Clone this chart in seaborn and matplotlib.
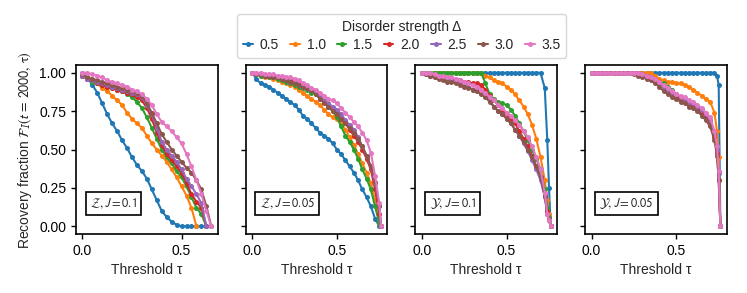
import numpy as np
import pandas as pd
import matplotlib
matplotlib.use("Agg")
import matplotlib.pyplot as plt
import seaborn as sns

# disorder strengths (hue levels)
deltas = ["0.5", "1.0", "1.5", "2.0", "2.5", "3.0", "3.5"]
panel_titles = [r"$\mathcal{Z}, J = 0.1$", r"$\mathcal{Z}, J = 0.05$",
                r"$\mathcal{Y}, J = 0.1$", r"$\mathcal{Y}, J = 0.05$"]

nan = np.nan

# --- panel 1: Z, J = 0.1
tau_z01 = [0.000, 0.025, 0.050, 0.075, 0.100, 0.125, 0.150, 0.175, 0.200, 0.225,
           0.250, 0.275, 0.300, 0.325, 0.350, 0.375, 0.400, 0.425, 0.450, 0.475,
           0.500, 0.525, 0.550, 0.575, 0.600, 0.625, 0.650]
frac_z01 = [
    [1.00, 0.97, 0.92, 0.87, 0.80, 0.73, 0.67, 0.62, 0.56, 0.51, 0.45, 0.40, 0.36, 0.31,
     0.24, 0.17, 0.10, 0.06, 0.03, 0.01, 0.00, 0.00, 0.00, 0.00, 0.00, 0.00, nan],
    [0.98, 0.97, 0.95, 0.93, 0.90, 0.88, 0.85, 0.82, 0.79, 0.74, 0.70, 0.67, 0.64, 0.59,
     0.54, 0.50, 0.46, 0.42, 0.37, 0.32, 0.26, 0.20, 0.12, 0.00, nan, nan, nan],
    [0.98, 0.96, 0.94, 0.93, 0.92, 0.91, 0.90, 0.89, 0.88, 0.86, 0.84, 0.81, 0.77, 0.71,
     0.64, 0.57, 0.50, 0.45, 0.41, 0.36, 0.32, 0.26, 0.19, 0.12, 0.08, 0.00, nan],
    [0.98, 0.96, 0.95, 0.93, 0.92, 0.91, 0.90, 0.89, 0.88, 0.87, 0.86, 0.84, 0.82, 0.77,
     0.70, 0.61, 0.53, 0.47, 0.43, 0.39, 0.35, 0.28, 0.21, 0.16, 0.12, 0.00, nan],
    [0.98, 0.96, 0.95, 0.94, 0.93, 0.92, 0.91, 0.90, 0.89, 0.88, 0.87, 0.86, 0.84, 0.79,
     0.73, 0.64, 0.55, 0.50, 0.46, 0.42, 0.37, 0.31, 0.26, 0.21, 0.15, 0.00, nan],
    [0.99, 0.97, 0.96, 0.95, 0.94, 0.93, 0.92, 0.91, 0.90, 0.89, 0.88, 0.87, 0.85, 0.80,
     0.74, 0.67, 0.60, 0.55, 0.50, 0.46, 0.42, 0.38, 0.35, 0.30, 0.24, 0.13, 0.00],
    [1.00, 1.00, 0.99, 0.98, 0.97, 0.95, 0.94, 0.93, 0.92, 0.91, 0.89, 0.88, 0.86, 0.83,
     0.79, 0.73, 0.68, 0.65, 0.62, 0.58, 0.54, 0.47, 0.39, 0.30, 0.21, 0.10, 0.00],
]

# --- panel 2: Z, J = 0.05
tau_z005 = [0.000, 0.025, 0.050, 0.075, 0.100, 0.125, 0.150, 0.175, 0.200, 0.225,
            0.250, 0.275, 0.300, 0.325, 0.350, 0.375, 0.400, 0.425, 0.450, 0.475,
            0.500, 0.525, 0.550, 0.575, 0.600, 0.625, 0.650, 0.675, 0.700, 0.725,
            0.750, 0.760]
frac_z005 = [
    [1.00, 0.96, 0.93, 0.92, 0.91, 0.89, 0.87, 0.85, 0.83, 0.81, 0.79, 0.76, 0.72, 0.70, 0.67, 0.64,
     0.61, 0.59, 0.57, 0.54, 0.50, 0.47, 0.43, 0.39, 0.35, 0.30, 0.24, 0.19, 0.13, 0.05, 0.00, nan],
    [1.00, 0.99, 0.98, 0.97, 0.97, 0.96, 0.95, 0.94, 0.93, 0.92, 0.91, 0.89, 0.87, 0.85, 0.83, 0.81,
     0.79, 0.76, 0.73, 0.71, 0.70, 0.67, 0.63, 0.58, 0.53, 0.47, 0.41, 0.35, 0.28, 0.17, 0.02, 0.00],
    [1.00, 0.99, 0.98, 0.98, 0.97, 0.97, 0.96, 0.95, 0.94, 0.93, 0.92, 0.91, 0.90, 0.89, 0.87, 0.86,
     0.84, 0.81, 0.78, 0.75, 0.71, 0.65, 0.59, 0.55, 0.50, 0.44, 0.37, 0.31, 0.24, 0.13, 0.02, 0.00],
    [1.00, 0.99, 0.99, 0.98, 0.98, 0.97, 0.97, 0.96, 0.96, 0.95, 0.94, 0.93, 0.92, 0.91, 0.89, 0.86,
     0.83, 0.81, 0.79, 0.76, 0.73, 0.70, 0.67, 0.63, 0.59, 0.55, 0.50, 0.44, 0.37, 0.24, 0.08, 0.00],
    [1.00, 0.99, 0.99, 0.98, 0.98, 0.97, 0.97, 0.96, 0.95, 0.94, 0.93, 0.92, 0.91, 0.90, 0.89, 0.86,
     0.84, 0.82, 0.80, 0.78, 0.76, 0.73, 0.69, 0.66, 0.63, 0.58, 0.52, 0.46, 0.39, 0.28, 0.13, 0.00],
    [1.00, 0.99, 0.99, 0.98, 0.98, 0.97, 0.97, 0.96, 0.95, 0.94, 0.93, 0.92, 0.91, 0.90, 0.89, 0.86,
     0.83, 0.80, 0.78, 0.75, 0.73, 0.70, 0.67, 0.64, 0.61, 0.57, 0.52, 0.46, 0.39, 0.29, 0.13, 0.00],
    [1.00, 1.00, 1.00, 0.99, 0.99, 0.99, 0.98, 0.98, 0.97, 0.97, 0.96, 0.95, 0.93, 0.92, 0.90, 0.89,
     0.87, 0.85, 0.83, 0.82, 0.80, 0.77, 0.74, 0.71, 0.68, 0.65, 0.61, 0.56, 0.48, 0.33, 0.15, 0.00],
]

# --- panels 3 and 4 share the same threshold grid
tau_y = [0.000, 0.025, 0.050, 0.075, 0.100, 0.125, 0.150, 0.175, 0.200, 0.225,
         0.250, 0.275, 0.300, 0.325, 0.350, 0.375, 0.400, 0.425, 0.450, 0.475,
         0.500, 0.525, 0.550, 0.575, 0.600, 0.625, 0.650, 0.675, 0.700, 0.725,
         0.740, 0.750, 0.760]

# --- panel 3: Y, J = 0.1
frac_y01 = [
    [1.00] * 29 + [0.90, 0.56, 0.25, 0.00],
    [1.00] * 15 + [0.98, 0.97, 0.95, 0.94, 0.93, 0.91, 0.89, 0.86, 0.82, 0.78, 0.73, 0.66, 0.57,
                   0.45, 0.30, 0.17, 0.08, 0.00],
    [1.00] * 15 + [0.93, 0.86, 0.83, 0.81, 0.80, 0.79, 0.76, 0.72, 0.67, 0.62, 0.56, 0.50, 0.44,
                   0.37, 0.24, 0.12, 0.06, 0.00],
    [1.00, 0.99, 0.98, 0.98, 0.97, 0.97, 0.96, 0.96, 0.95, 0.95, 0.94, 0.94, 0.93, 0.93, 0.92, 0.89,
     0.85, 0.82, 0.79, 0.76, 0.73, 0.70, 0.67, 0.62, 0.57, 0.52, 0.46, 0.39, 0.32, 0.20, 0.10, 0.05, 0.00],
    [1.00, 0.99, 0.98, 0.97, 0.97, 0.96, 0.96, 0.95, 0.94, 0.93, 0.92, 0.91, 0.89, 0.88, 0.87, 0.85,
     0.82, 0.78, 0.75, 0.73, 0.70, 0.67, 0.63, 0.59, 0.54, 0.49, 0.43, 0.37, 0.30, 0.19, 0.08, 0.04, 0.00],
    [1.00, 0.99, 0.98, 0.97, 0.96, 0.95, 0.94, 0.94, 0.93, 0.92, 0.91, 0.90, 0.89, 0.88, 0.86, 0.84,
     0.81, 0.78, 0.75, 0.73, 0.70, 0.67, 0.63, 0.59, 0.55, 0.50, 0.45, 0.39, 0.32, 0.20, 0.08, 0.04, 0.00],
    [1.00, 1.00, 1.00, 0.99, 0.98, 0.98, 0.97, 0.97, 0.96, 0.95, 0.94, 0.93, 0.92, 0.91, 0.89, 0.87,
     0.84, 0.82, 0.79, 0.77, 0.74, 0.72, 0.69, 0.66, 0.62, 0.58, 0.52, 0.45, 0.37, 0.22, 0.08, 0.04, 0.00],
]

# --- panel 4: Y, J = 0.05
frac_y005 = [
    [1.00] * 30 + [0.98, 0.92, 0.00],
    [1.00] * 15 + [0.98, 0.96, 0.95, 0.94, 0.94, 0.93, 0.93, 0.92, 0.91, 0.89, 0.87, 0.85, 0.83,
                   0.81, 0.74, 0.62, 0.45, 0.00],
    [1.00] * 12 + [0.99, 0.98, 0.97, 0.96, 0.94, 0.93, 0.91, 0.89, 0.86, 0.84, 0.83, 0.81, 0.80,
                   0.78, 0.75, 0.72, 0.68, 0.60, 0.50, 0.35, 0.00],
    [1.00] * 12 + [0.99, 0.98, 0.97, 0.95, 0.94, 0.92, 0.89, 0.87, 0.85, 0.83, 0.82, 0.80, 0.79,
                   0.77, 0.74, 0.71, 0.67, 0.58, 0.48, 0.30, 0.00],
    [1.00] * 12 + [0.98, 0.97, 0.96, 0.95, 0.93, 0.91, 0.89, 0.87, 0.86, 0.84, 0.83, 0.81, 0.80,
                   0.78, 0.76, 0.73, 0.69, 0.60, 0.50, 0.35, 0.00],
    [1.00] * 10 + [0.99, 0.98, 0.97, 0.96, 0.95, 0.93, 0.91, 0.88, 0.86, 0.84, 0.83, 0.81, 0.80,
                   0.78, 0.77, 0.75, 0.72, 0.69, 0.65, 0.56, 0.46, 0.30, 0.00],
    [1.00] * 12 + [0.99, 0.98, 0.97, 0.96, 0.94, 0.92, 0.90, 0.88, 0.86, 0.85, 0.84, 0.82, 0.81,
                   0.79, 0.77, 0.74, 0.71, 0.62, 0.52, 0.36, 0.00],
]

panels = [(tau_z01, frac_z01), (tau_z005, frac_z005), (tau_y, frac_y01), (tau_y, frac_y005)]


def to_frame(tau, frac):
    rows = []
    for d, ys in zip(deltas, frac):
        for t, y in zip(tau, ys):
            rows.append({"tau": t, "frac": y, "delta": d})
    return pd.DataFrame(rows).dropna()


sns.set_style("ticks")
plt.rcParams["font.family"] = ["Liberation Sans", "DejaVu Sans"]
plt.rcParams["mathtext.fontset"] = "stixsans"
plt.rcParams["font.size"] = 10
plt.rcParams["axes.linewidth"] = 1.2
plt.rcParams["axes.edgecolor"] = "black"
plt.rcParams["xtick.color"] = "black"
plt.rcParams["ytick.color"] = "black"
plt.rcParams["xtick.major.width"] = 1.0
plt.rcParams["ytick.major.width"] = 1.0
plt.rcParams["xtick.major.size"] = 3.5
plt.rcParams["ytick.major.size"] = 3.5

palette = sns.color_palette("tab10", len(deltas))

fig, axes = plt.subplots(1, 4, figsize=(7.47, 2.93), dpi=100, sharey=True)
fig.subplots_adjust(left=0.1017, right=0.973, bottom=0.2014, top=0.778, wspace=0.197)

for ax, (tau, frac), title in zip(axes, panels, panel_titles):
    df = to_frame(tau, frac)
    sns.lineplot(data=df, x="tau", y="frac", hue="delta", hue_order=deltas,
                 palette=palette, marker="o", markersize=3.6, markeredgewidth=0,
                 linewidth=1.5, estimator=None, legend=False, ax=ax)
    ax.set_xticks([0.0, 0.5])
    ax.set_xticklabels(["0.0", "0.5"])
    ax.set_yticks([0.0, 0.25, 0.5, 0.75, 1.0])
    ax.set_xlabel("Threshold τ", fontsize=10)
    ax.set_ylabel("")
    ax.tick_params(labelsize=10)
    ax.text(0.1, 0.18, title, transform=ax.transAxes, fontsize=9, ha="left", va="center",
            bbox=dict(boxstyle="square,pad=0.35", fc="white", ec="black", lw=1.2))

axes[0].set_yticklabels(["0.00", "0.25", "0.50", "0.75", "1.00"])
axes[0].set_ylabel(r"Recovery fraction $\mathcal{F}_I(t\,=\,2000,\,\mathrm{\tau})$", fontsize=10)

handles = list(axes[0].get_lines()[:len(deltas)])
fig.legend(handles, deltas, loc="upper center", bbox_to_anchor=(0.538, 0.975), ncol=7,
           title="Disorder strength Δ", fontsize=10, title_fontsize=10,
           handlelength=0.7, handletextpad=0.5, columnspacing=0.8,
           borderpad=0.4, labelspacing=0.3, frameon=True)

fig.savefig("out.png", dpi=100)
